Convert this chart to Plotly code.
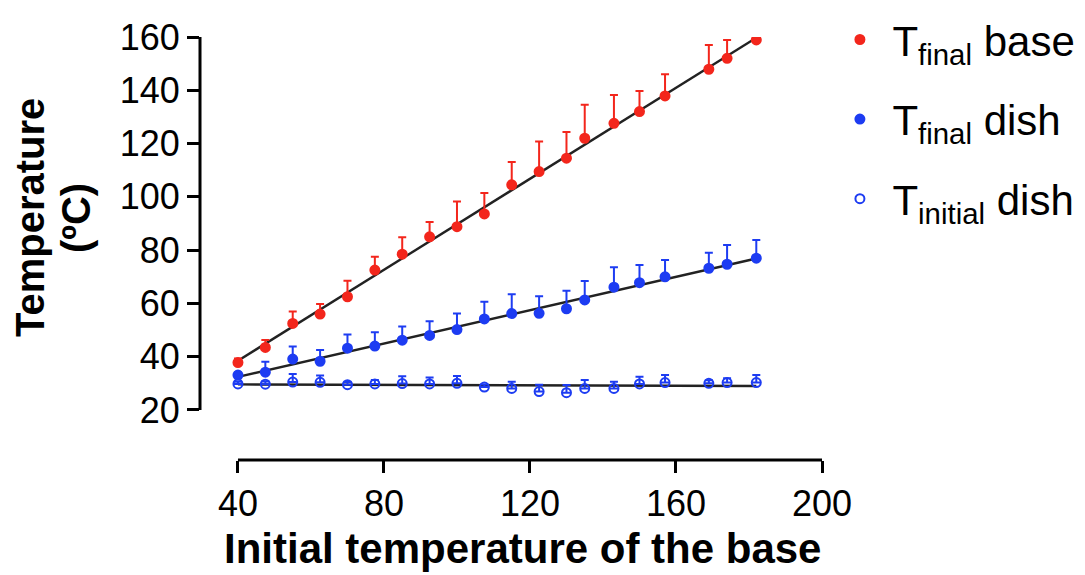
import numpy as np
import plotly.graph_objects as go

# Başlangıç taban sıcaklığı (x ekseni)
base_temp = [40, 47.5, 55, 62.5, 70, 77.5, 85, 92.5, 100, 107.5,
             115, 122.5, 130, 135, 143, 150, 157, 169, 174, 182]

# T final base (kırmızı)
final_base = [37.8, 43.5, 52.5, 56.0, 62.5, 72.5, 78.5, 85.0, 88.8, 93.6,
              104.5, 109.5, 114.5, 122.0, 127.6, 132.0, 137.9, 147.9, 152.0, 158.9]
final_base_err = [1.5, 2.8, 4.5, 3.8, 6.0, 5.0, 6.3, 5.6, 9.5, 7.8,
                  8.6, 11.3, 9.8, 12.6, 10.6, 7.7, 8.1, 9.1, 6.9, 0.0]

# T final dish (mavi, dolu)
final_dish = [33.1, 34.2, 39.1, 38.3, 43.2, 44.0, 46.2, 48.0, 50.2, 54.2,
              56.2, 56.3, 58.0, 61.3, 66.1, 67.8, 70.0, 73.2, 74.7, 77.0]
final_dish_err = [1.0, 3.9, 4.7, 4.2, 5.1, 5.2, 5.1, 5.3, 6.0, 6.4,
                  7.2, 6.4, 6.8, 7.1, 7.5, 6.6, 6.3, 5.8, 7.2, 6.8]

# T initial dish (mavi, boş)
initial_dish = [29.8, 29.7, 30.5, 30.4, 29.5, 29.8, 29.9, 29.8, 30.0, 28.6,
                28.1, 26.9, 26.5, 28.1, 28.1, 29.8, 30.3, 30.0, 30.3, 30.3]
initial_dish_err = [0.8, 1.0, 3.0, 2.5, 1.0, 1.5, 2.8, 2.4, 2.8, 1.0,
                    2.5, 2.6, 2.9, 3.2, 2.5, 2.7, 2.8, 1.2, 1.6, 2.8]

x_ticks = [40, 80, 120, 160, 200]
y_ticks = [20, 40, 60, 80, 100, 120, 140, 160]

RED = '#f3261c'
BLUE = '#1d3cf2'
FONT = 'Arial, Liberation Sans, sans-serif'

# sayfa gövdesinin 8px kenar boşluğu hesaba katıldı
W, H = 1085, 575
M = dict(l=192, r=271, t=29, b=123)
PW = W - M['l'] - M['r']
PH = H - M['t'] - M['b']


def paper_xy(px, py):
    """Sayfa pikselini (8px gövde kaydırmalı) paper koordinatına çevir"""
    return (px - 8 - M['l']) / PW, 1 - (py - 8 - M['t']) / PH


x = np.array(base_temp)
fig = go.Figure()

series = [
    ('T<sub>final</sub> base', final_base, final_base_err, RED, 'circle'),
    ('T<sub>final</sub> dish', final_dish, final_dish_err, BLUE, 'circle'),
    ('T<sub>initial</sub> dish', initial_dish, initial_dish_err, BLUE, 'circle-open'),
]

# Regresyon çizgileri
for name, y, err, color, symbol in series:
    slope, icpt = np.polyfit(x, np.array(y), 1)
    xs = np.array([x.min(), x.max()])
    fig.add_trace(go.Scatter(
        x=xs, y=slope * xs + icpt, mode='lines',
        line=dict(color='#222222', width=2.4),
        showlegend=False, hoverinfo='skip'
    ))

for i, (name, y, err, color, symbol) in enumerate(series):
    fig.add_trace(go.Scatter(
        x=base_temp, y=y, mode='markers', name=name,
        legendgroup=f'g{i}',
        marker=dict(color=color, size=9, symbol=symbol,
                    line=dict(color=color, width=2)),
        error_y=dict(type='data', symmetric=False, array=err,
                     arrayminus=[0] * len(err), color=color,
                     thickness=2, width=4),
    ))

# Prism tarzı ayrık eksen çizgileri
fig.add_shape(type='line', xref='paper', yref='y', x0=0, x1=0,
              y0=min(y_ticks), y1=max(y_ticks), line=dict(color='black', width=3))
fig.add_shape(type='line', xref='x', yref='paper', x0=min(x_ticks), x1=max(x_ticks),
              y0=0, y1=0, line=dict(color='black', width=3))

# Eksen başlıkları
ax, ay = paper_xy(30, 218)
fig.add_annotation(x=ax, y=ay, xref='paper', yref='paper', text='<b>Temperature</b>',
                   textangle=-90, showarrow=False, font=dict(size=40),
                   xanchor='center', yanchor='middle')
ax, ay = paper_xy(76, 218)
fig.add_annotation(x=ax, y=ay, xref='paper', yref='paper', text='<b>(ºC)</b>',
                   textangle=-90, showarrow=False, font=dict(size=40),
                   xanchor='center', yanchor='middle')
ax, ay = paper_xy(522, 548)
fig.add_annotation(x=ax, y=ay, xref='paper', yref='paper',
                   text='<b>Initial temperature of the base</b>',
                   showarrow=False, font=dict(size=42),
                   xanchor='center', yanchor='middle')

fig.update_layout(
    width=W, height=H,
    margin=dict(**M, autoexpand=False),
    plot_bgcolor='white', paper_bgcolor='white',
    font=dict(family=FONT, color='black'),
    legend=dict(x=1.0087, y=1.074, xanchor='left', yanchor='top',
                font=dict(size=42, color='black'), tracegroupgap=22,
                itemwidth=55),
)
fig.update_xaxes(
    range=[29.6, 200], tickvals=x_ticks, showgrid=False, zeroline=False,
    showline=False, ticks='outside', ticklen=12, tickwidth=3, tickcolor='black',
    tickfont=dict(size=36), automargin=False,
)
fig.update_yaxes(
    range=[1.23, 160], tickvals=y_ticks, showgrid=False, zeroline=False,
    showline=False, ticks='outside', ticklen=12, tickwidth=3, tickcolor='black',
    tickfont=dict(size=36), automargin=False,
)

fig.write_html('out.html')
